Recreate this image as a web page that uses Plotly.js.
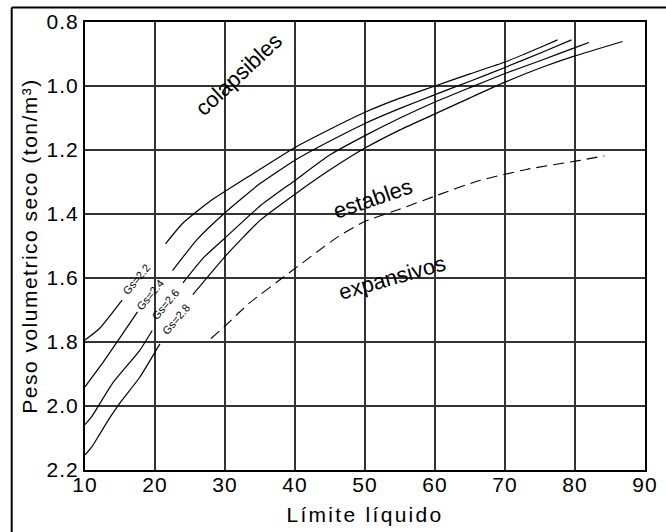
<!DOCTYPE html>
<html>
<head>
<meta charset="utf-8">
<script src="https://cdn.plot.ly/plotly-3.0.1.min.js"></script>
<style>
  html, body { margin: 0; padding: 0; background: #fff; }
  #chart { width: 666px; height: 532px; }
  .xtitle { letter-spacing: 2.3px; }
  .ytitle { letter-spacing: 1.5px; }
  .xtick text, .ytick text { letter-spacing: 1px; }
</style>
</head>
<body>
<div id="chart"></div>
<script>
// ---- data ----
const xTickVals = [10, 20, 30, 40, 50, 60, 70, 80, 90];
const xTickText = ["10", "20", "30", "40", "50", "60", "70", "80", "90"];
const yTickVals = [0.8, 1.0, 1.2, 1.4, 1.6, 1.8, 2.0, 2.2];
const yTickText = ["0.8", "1.0", "1.2", "1.4", "1.6", "1.8", "2.0", "2.2"];

// Gs = 2.2 (null = gap where the curve label sits)
const gs22X = [10, 12.1, 15.3, null, 21.5, 24, 28, 34, 40, 45, 50, 55, 60, 65, 70, 75.5, 77.5];
const gs22Y = [1.794, 1.757, 1.669, null, 1.493, 1.428, 1.358, 1.274, 1.192, 1.135, 1.082, 1.038, 1.0, 0.962, 0.925, 0.875, 0.856];
// Gs = 2.4
const gs24X = [10, 12.6, 17.5, null, 22.5, 26, 30, 35, 40, 45, 50, 55, 60, 65, 70, 75.5, 79.5];
const gs24Y = [1.94, 1.863, 1.706, null, 1.577, 1.48, 1.396, 1.305, 1.232, 1.172, 1.117, 1.07, 1.027, 0.985, 0.942, 0.893, 0.856];
// Gs = 2.6
const gs26X = [10, 10.9, 14, 17.8, 19.6, null, 24, 27, 30, 35, 40, 45, 50, 55, 60, 65, 70, 75.5, 80, 82];
const gs26Y = [2.058, 2.035, 1.927, 1.827, 1.764, null, 1.615, 1.535, 1.475, 1.375, 1.295, 1.215, 1.155, 1.1, 1.05, 1.005, 0.961, 0.917, 0.88, 0.864];
// Gs = 2.8
const gs28X = [10, 11, 12.1, 13.6, 15, 17.8, 20.7, null, 25.4, 30, 35, 40, 45, 50, 55, 60, 65, 70, 75.5, 80, 86.8];
const gs28Y = [2.153, 2.127, 2.088, 2.035, 1.99, 1.911, 1.806, null, 1.652, 1.533, 1.42, 1.338, 1.262, 1.194, 1.137, 1.087, 1.037, 0.988, 0.94, 0.906, 0.861];
// dashed boundary estables / expansivos
const boundX = [28, 30, 33.4, 39.1, 46.2, 50, 54.8, 60, 66.1, 73.2, 80.3, 84.2];
const boundY = [1.789, 1.75, 1.68, 1.585, 1.47, 1.423, 1.386, 1.344, 1.297, 1.26, 1.234, 1.218];

// curve labels and zone labels
const curveLabels = ["Gs=2.2", "Gs=2.4", "Gs=2.6", "Gs=2.8"];
const curveLabelX = [17.35, 19.24, 21.48, 23.03];
const curveLabelY = [1.602, 1.652, 1.680, 1.728];
const zoneLabels = ["colapsibles", "estables", "expansivos"];
const zoneLabelX = [31.9, 51.2, 53.9];
const zoneLabelY = [0.963, 1.353, 1.599];
const zoneLabelAngle = [-43, -19, -16];

// ---- drawing ----
const FONT = "'Liberation Sans', Arial, Helvetica, sans-serif";
const lineStyle = {color: "#000", width: 1.2, shape: "spline", smoothing: 0.5};

const traces = [
  {x: gs22X, y: gs22Y, name: "Gs=2.2"},
  {x: gs24X, y: gs24Y, name: "Gs=2.4"},
  {x: gs26X, y: gs26Y, name: "Gs=2.6"},
  {x: gs28X, y: gs28Y, name: "Gs=2.8"}
].map(t => Object.assign(t, {type: "scatter", mode: "lines", line: lineStyle, hoverinfo: "skip", connectgaps: false}));

traces.push({
  x: boundX, y: boundY, name: "límite", type: "scatter", mode: "lines",
  line: {color: "#000", width: 1.1, dash: "11px,6px", shape: "spline", smoothing: 0.5},
  hoverinfo: "skip"
});

const annotations = [];
curveLabels.forEach((t, i) => annotations.push({
  x: curveLabelX[i], y: curveLabelY[i], xref: "x", yref: "y", text: t,
  showarrow: false, textangle: -50, font: {family: FONT, size: 11, color: "#000"},
  xanchor: "center", yanchor: "middle"
}));
zoneLabels.forEach((t, i) => annotations.push({
  x: zoneLabelX[i], y: zoneLabelY[i], xref: "x", yref: "y", text: t,
  showarrow: false, textangle: zoneLabelAngle[i], font: {family: FONT, size: 22, color: "#000"},
  xanchor: "center", yanchor: "middle"
}));

const layout = {
  width: 666, height: 532,
  margin: {l: 85, r: 21, t: 22, b: 62, pad: 0},
  paper_bgcolor: "#fff", plot_bgcolor: "#fff",
  showlegend: false,
  hovermode: false,
  font: {family: FONT, size: 21, color: "#000"},
  xaxis: {
    range: [10, 90], tickvals: xTickVals, ticktext: xTickText,
    showgrid: true, gridcolor: "#333", gridwidth: 2,
    showline: true, mirror: true, linecolor: "#000", linewidth: 2,
    zeroline: false, ticks: "", ticklabelstandoff: -5,
    tickfont: {family: FONT, size: 21, color: "#000"},
    title: {text: "Límite líquido", font: {family: FONT, size: 21, color: "#000"}, standoff: 12},
    automargin: false, fixedrange: true
  },
  yaxis: {
    range: [2.2, 0.8], tickvals: yTickVals, ticktext: yTickText,
    showgrid: true, gridcolor: "#333", gridwidth: 2,
    showline: true, mirror: true, linecolor: "#000", linewidth: 2,
    zeroline: false, ticks: "", ticklabelstandoff: 0,
    tickfont: {family: FONT, size: 21, color: "#000"},
    title: {text: "Peso volumetrico seco (ton/m³)", font: {family: FONT, size: 21, color: "#000"}, standoff: 3},
    automargin: false, fixedrange: true
  },
  annotations: annotations,
  shapes: [
    {type: "line", xref: "paper", yref: "paper", x0: -0.1309, x1: -0.1309, y0: -0.15, y1: 1.0324, line: {color: "#000", width: 2}},
    {type: "line", xref: "paper", yref: "paper", x0: -0.1309, x1: 1.04, y0: 1.0324, y1: 1.0324, line: {color: "#000", width: 2}}
  ]
};

Plotly.newPlot("chart", traces, layout, {displayModeBar: false, responsive: false});
</script>
</body>
</html>
